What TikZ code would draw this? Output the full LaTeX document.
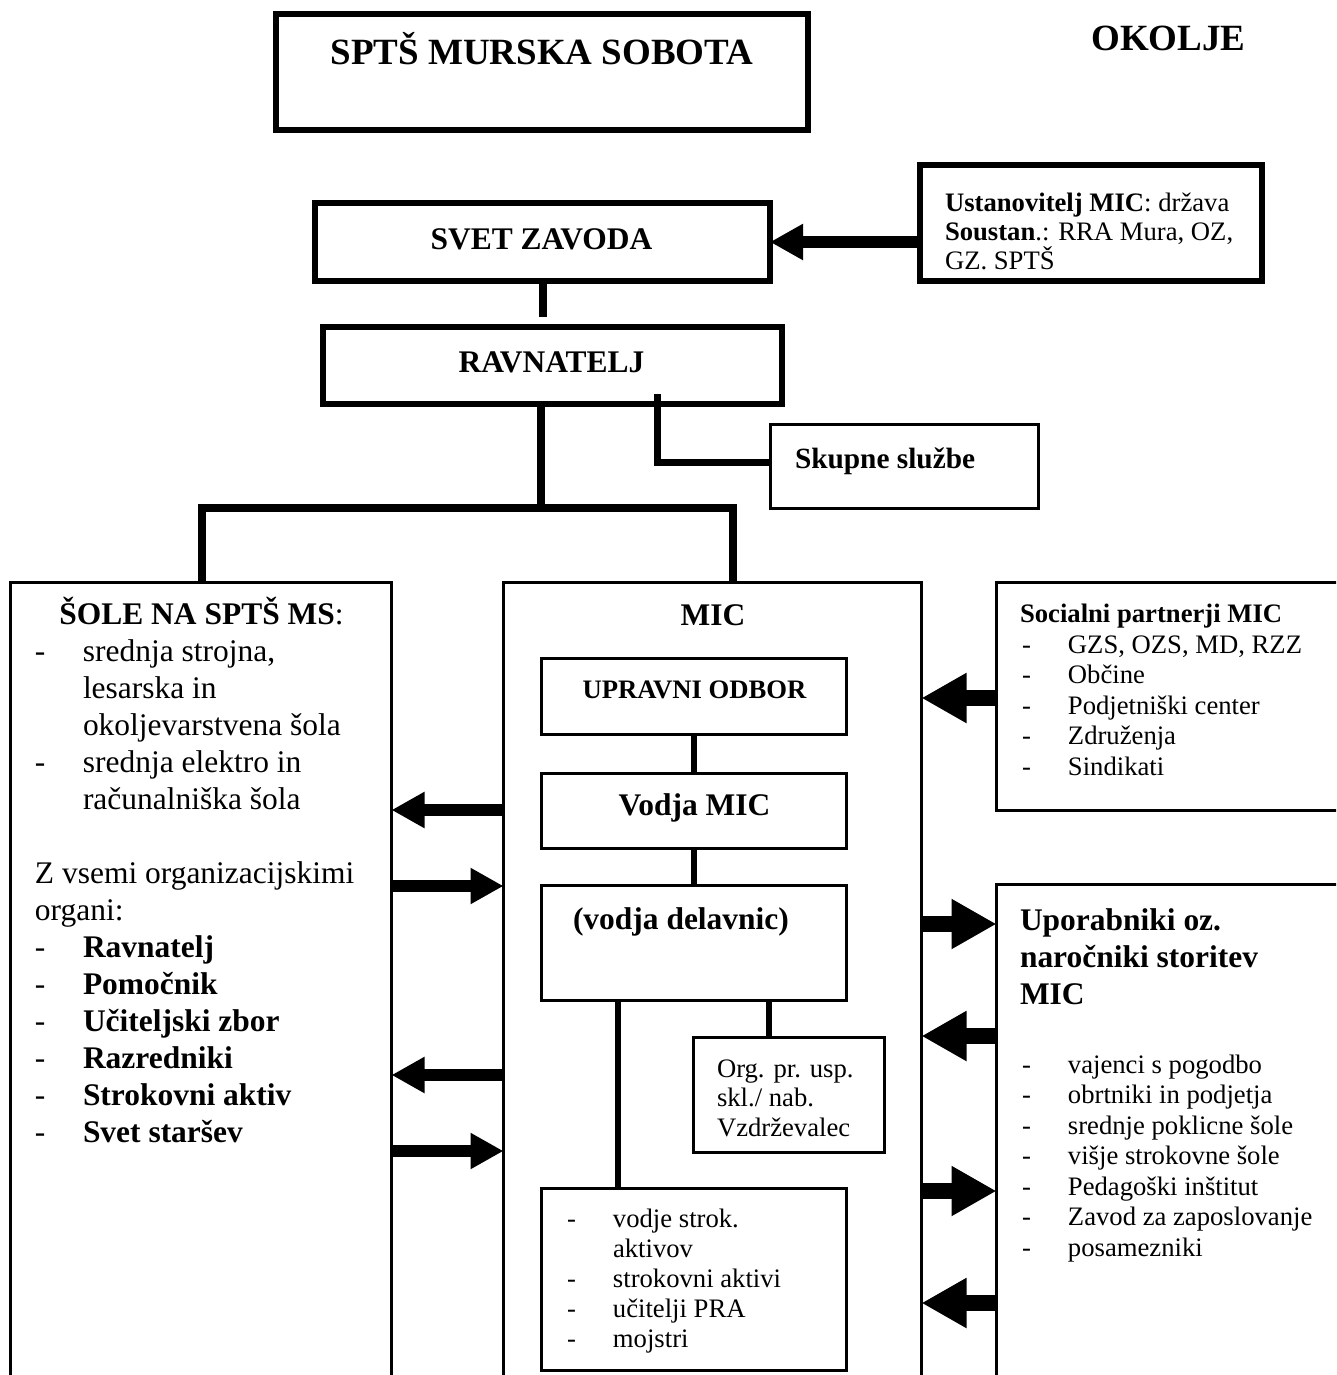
\documentclass[tikz,border=0pt]{standalone}
\usepackage{fontspec}
\setmainfont{Liberation Serif}
\usetikzlibrary{arrows.meta,fit}
\newcommand\fTitle{\fontsize{27.75}{33}\selectfont\bfseries}
\newcommand\fBig{\fontsize{23.6}{28}\selectfont}
\newcommand\fSk{\fontsize{22}{26}\selectfont\bfseries}
\newcommand\fSm{\fontsize{20}{24}\selectfont}
\newcommand\dashL{\makebox[36pt][l]{-}}
\newcommand\dashR{\makebox[34.5pt][l]{-}}
\begin{document}
\begin{tikzpicture}[x=0.75pt,y=-0.75pt,
  tbox/.style={draw, line width=4.5pt, inner sep=0pt, outer sep=0pt, rectangle},
  nbox/.style={draw, line width=2.25pt, inner sep=0pt, outer sep=0pt, rectangle},
  conn/.style={draw, line width=6pt, line join=miter},
  connM/.style={draw, line width=5.25pt, line join=miter},
  connS/.style={draw, line width=4.5pt},
  arrS/.style={draw, line width=9.5pt, -{Triangle[length=24.75pt,width=25.5pt]}},
  arrL/.style={draw, line width=11.5pt, -{Triangle[length=33.75pt,width=35.25pt]}},
  tx/.style={inner sep=0pt, outer sep=0pt, anchor=base west},
  txc/.style={inner sep=0pt, outer sep=0pt, anchor=base},
]
\clip (0,0) rectangle (1336,1375);
\fill[white] (0,0) rectangle (1336,1375);

% ---------- boxes ----------
\node[tbox, fit={(276,14) (808,130)}] (title) {};
\node[tbox, fit={(315,203) (770,281)}] (svet) {};
\node[tbox, fit={(920,165) (1262,281)}] (ust) {};
\node[tbox, fit={(323,327) (782,404)}] (ravn) {};
\node[nbox, fit={(770.5,424.5) (1038.5,508.5)}] (skup) {};
\node[nbox, fit={(10.5,582.5) (391.5,1420)}] (sole) {};
\node[nbox, fit={(503.5,582.5) (921.5,1420)}] (mic) {};
\node[nbox, fit={(996.5,582.5) (1360,810.5)}] (soc) {};
\node[nbox, fit={(996.5,884.5) (1360,1420)}] (upor) {};
\node[nbox, fit={(541.5,658.5) (846.5,734.5)}] (upr) {};
\node[nbox, fit={(541.5,773.5) (846.5,848.5)}] (vodja) {};
\node[nbox, fit={(541.5,885.5) (846.5,1000.5)}] (delav) {};
\node[nbox, fit={(693.5,1037.5) (884.5,1152.5)}] (org) {};
\node[nbox, fit={(541.5,1188.5) (846.5,1370.5)}] (list) {};

% ---------- connectors ----------
\coordinate (sv1) at (542.5,317);
\draw[conn] (svet.south) -- (sv1);
\coordinate (jm) at (541,508);
\coordinate (jl) at (202,508);
\coordinate (jr) at (733,508);
\draw[conn] (ravn.south -| jm) -- (jm);
\draw[conn] (sole.north -| jl) -- (jl) -- (jr) -- (mic.north -| jr);
\coordinate (sk0) at (657,394);
\coordinate (sk1) at (657,462);
\draw[connM] (sk0) -- (sk1) -- (skup.west |- sk1);
\coordinate (x618) at (618,0);
\coordinate (x769) at (769,0);
\draw[connS] (upr.south) -- (vodja.north);
\draw[connS] (vodja.south) -- (delav.north);
\draw[connS] (delav.south -| x618) -- (list.north -| x618);
\draw[connS] (delav.south -| x769) -- (org.north -| x769);

% ---------- arrows ----------
\coordinate (yt) at (0,242);
\draw[arrS] (ust.west |- yt) -- (svet.east |- yt);
\coordinate (ya) at (0,810);
\coordinate (yb) at (0,886);
\coordinate (yc) at (0,1075);
\coordinate (yd) at (0,1151);
\draw[arrS] (mic.west |- ya) -- (sole.east |- ya);
\draw[arrS] (sole.east |- yb) -- (mic.west |- yb);
\draw[arrS] (mic.west |- yc) -- (sole.east |- yc);
\draw[arrS] (sole.east |- yd) -- (mic.west |- yd);
\coordinate (y1) at (0,698);
\coordinate (y2) at (0,924);
\coordinate (y3) at (0,1036);
\coordinate (y4) at (0,1191);
\coordinate (y5) at (0,1303);
\draw[arrL] (soc.west |- y1) -- (mic.east |- y1);
\draw[arrL] (mic.east |- y2) -- (upor.west |- y2);
\draw[arrL] (upor.west |- y3) -- (mic.east |- y3);
\draw[arrL] (mic.east |- y4) -- (upor.west |- y4);
\draw[arrL] (upor.west |- y5) -- (mic.east |- y5);

% ---------- texts ----------
\node[txc] (t-title) at (542,64) {\fTitle SPTŠ MURSKA SOBOTA};
\node[txc] (t-okolje) at (1168.5,50) {\fTitle OKOLJE};
\node[txc] (t-svet) at (541.5,249) {\fBig\bfseries SVET ZAVODA};
\node[tx] (t-u1) at (945,211) {\fSm\textbf{Ustanovitelj MIC}: država};
\node[tx] (t-u2) at (945,240) {\fSm\textbf{Soustan}.: RRA Mura, OZ,};
\node[tx] (t-u3) at (945,269) {\fSm GZ. SPTŠ};
\node[txc] (t-ravn) at (551.5,372) {\fBig\bfseries RAVNATELJ};
\node[tx] (t-skup) at (795,468) {\fSk Skupne službe};

% left box
\node[txc] (t-s0) at (201.5,624) {\fBig\textbf{ŠOLE NA SPTŠ MS}:};
\node[tx] (t-s1) at (35,661) {\fBig\dashL srednja strojna,};
\node[tx] (t-s2) at (83,698) {\fBig lesarska in};
\node[tx] (t-s3) at (83,735) {\fBig okoljevarstvena šola};
\node[tx] (t-s4) at (35,772) {\fBig\dashL srednja elektro in};
\node[tx] (t-s5) at (83,809) {\fBig računalniška šola};
\node[tx] (t-s6) at (35,883) {\fBig Z vsemi organizacijskimi};
\node[tx] (t-s7) at (35,920) {\fBig organi:};
\node[tx] (t-s8) at (35,957) {\fBig\dashL\textbf{Ravnatelj}};
\node[tx] (t-s9) at (35,994) {\fBig\dashL\textbf{Pomočnik}};
\node[tx] (t-s10) at (35,1031) {\fBig\dashL\textbf{Učiteljski zbor}};
\node[tx] (t-s11) at (35,1068) {\fBig\dashL\textbf{Razredniki}};
\node[tx] (t-s12) at (35,1105) {\fBig\dashL\textbf{Strokovni aktiv}};
\node[tx] (t-s13) at (35,1142) {\fBig\dashL\textbf{Svet staršev}};

% MIC box
\node[txc] (t-mic) at (713,625) {\fBig\bfseries MIC};
\node[txc] (t-upr) at (694.5,698) {\fSm\bfseries UPRAVNI ODBOR};
\node[txc] (t-vodja) at (694.5,815) {\fBig\bfseries Vodja MIC};
\node[tx] (t-delav) at (573,929) {\fBig\bfseries (vodja delavnic)};
\node[tx] (t-o1) at (717,1077) {\fSm Org. pr. usp.};
\node[tx] (t-o2) at (717,1106) {\fSm skl./ nab.};
\node[tx] (t-o3) at (717,1136) {\fSm Vzdrževalec};
\node[tx] (t-l1) at (567,1227) {\fSm\dashR vodje strok.};
\node[tx] (t-l2) at (613,1257) {\fSm aktivov};
\node[tx] (t-l3) at (567,1287) {\fSm\dashR strokovni aktivi};
\node[tx] (t-l4) at (567,1317) {\fSm\dashR učitelji PRA};
\node[tx] (t-l5) at (567,1347) {\fSm\dashR mojstri};

% Socialni partnerji
\node[tx] (t-p0) at (1020,622.5) {\fSm\bfseries Socialni partnerji MIC};
\node[tx] (t-p1) at (1022,653) {\fSm\dashR GZS, OZS, MD, RZZ};
\node[tx] (t-p2) at (1022,683.5) {\fSm\dashR Občine};
\node[tx] (t-p3) at (1022,714) {\fSm\dashR Podjetniški center};
\node[tx] (t-p4) at (1022,744.5) {\fSm\dashR Združenja};
\node[tx] (t-p5) at (1022,775) {\fSm\dashR Sindikati};

% Uporabniki
\node[tx] (t-k0) at (1020,930) {\fBig\bfseries Uporabniki oz.};
\node[tx] (t-k1) at (1020,967) {\fBig\bfseries naročniki storitev};
\node[tx] (t-k2) at (1020,1004) {\fBig\bfseries MIC};
\node[tx] (t-k3) at (1022,1073) {\fSm\dashR vajenci s pogodbo};
\node[tx] (t-k4) at (1022,1103.5) {\fSm\dashR obrtniki in podjetja};
\node[tx] (t-k5) at (1022,1134) {\fSm\dashR srednje poklicne šole};
\node[tx] (t-k6) at (1022,1164.5) {\fSm\dashR višje strokovne šole};
\node[tx] (t-k7) at (1022,1195) {\fSm\dashR Pedagoški inštitut};
\node[tx] (t-k8) at (1022,1225.5) {\fSm\dashR Zavod za zaposlovanje};
\node[tx] (t-k9) at (1022,1256) {\fSm\dashR posamezniki};
\end{tikzpicture}
\end{document}
